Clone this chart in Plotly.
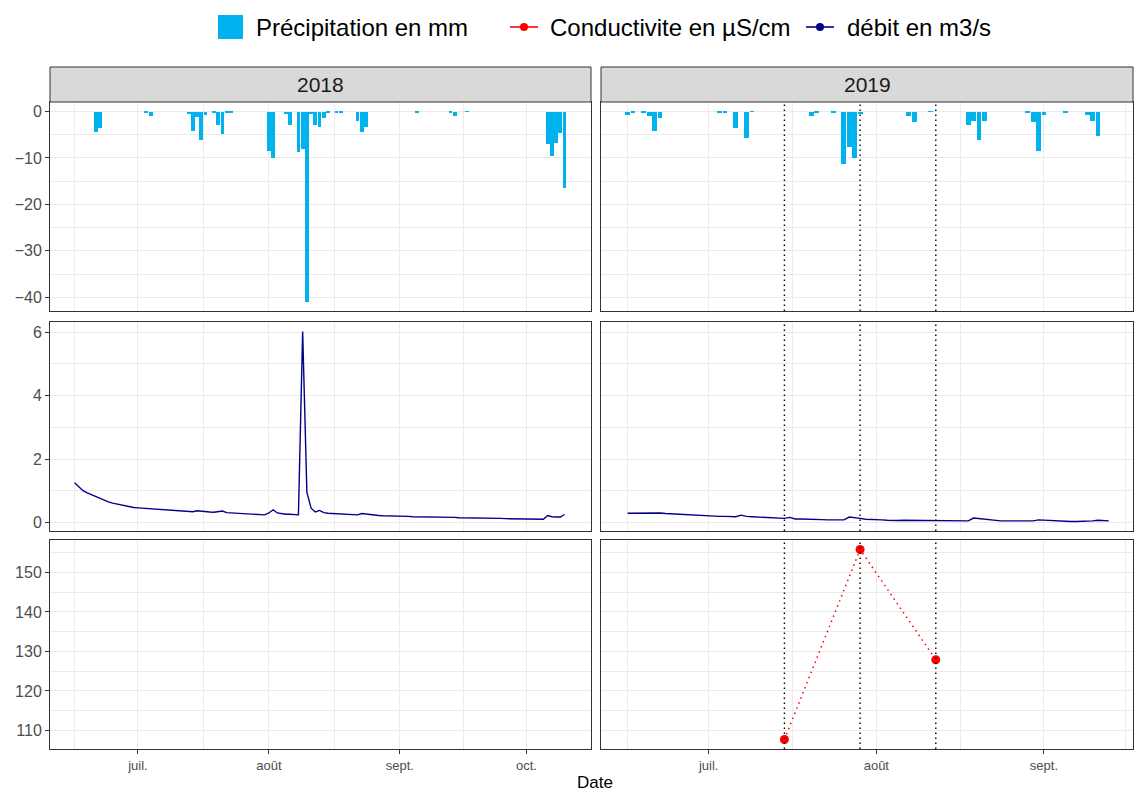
import pandas as pd
import plotly.graph_objects as go
from plotly.subplots import make_subplots

# ---------------- data ----------------
year_labels = ["2018", "2019"]

precip_2018_dates = ["2018-06-21", "2018-06-22", "2018-07-03", "2018-07-04", "2018-07-13",
                     "2018-07-14", "2018-07-15", "2018-07-16", "2018-07-17", "2018-07-19",
                     "2018-07-20", "2018-07-21", "2018-07-22", "2018-07-23", "2018-08-01",
                     "2018-08-02", "2018-08-05", "2018-08-06", "2018-08-08", "2018-08-09",
                     "2018-08-10", "2018-08-11", "2018-08-12", "2018-08-13", "2018-08-14",
                     "2018-08-15", "2018-08-17", "2018-08-18", "2018-08-22", "2018-08-23",
                     "2018-08-24", "2018-09-05", "2018-09-13", "2018-09-14", "2018-09-17",
                     "2018-10-06", "2018-10-07", "2018-10-08", "2018-10-09", "2018-10-10"]
precip_2018_mm = [-4.5, -3.5, -0.2, -1.0, -0.6,
                  -4.3, -1.1, -6.1, -0.7, -0.15,
                  -2.8, -4.9, -0.2, -0.2, -8.5,
                  -10.1, -0.5, -3.0, -8.7, -8.0,
                  -40.9, -0.5, -2.9, -3.4, -1.4,
                  -0.2, -0.2, -0.3, -2.0, -4.5,
                  -3.4, -0.3, -0.15, -0.9, -0.1,
                  -7.0, -9.5, -6.7, -4.6, -16.5]

precip_2019_dates = ["2019-06-16", "2019-06-17", "2019-06-19", "2019-06-20", "2019-06-21",
                     "2019-06-22", "2019-07-03", "2019-07-04", "2019-07-06", "2019-07-08",
                     "2019-07-09", "2019-07-20", "2019-07-21", "2019-07-24", "2019-07-26",
                     "2019-07-27", "2019-07-28", "2019-07-29", "2019-08-07", "2019-08-08",
                     "2019-08-11", "2019-08-18", "2019-08-19", "2019-08-20", "2019-08-21",
                     "2019-08-29", "2019-08-30", "2019-08-31", "2019-09-01", "2019-09-05",
                     "2019-09-09", "2019-09-10", "2019-09-11"]
precip_2019_mm = [-0.7, -0.15, -0.3, -0.9, -4.2,
                  -1.5, -0.4, -0.3, -3.6, -5.8,
                  -0.1, -0.9, -0.3, -0.3, -11.3,
                  -7.6, -10.0, -0.6, -0.9, -2.2,
                  -0.1, -2.8, -2.0, -6.1, -2.0,
                  -0.15, -2.2, -8.5, -0.7, -0.3,
                  -0.8, -2.0, -5.2]

# daily discharge, starting 2018-06-16
debit_2018_start = "2018-06-16"
debit_2018_m3s = [1.25, 1.12, 1.00, 0.93, 0.87, 0.82, 0.77, 0.70, 0.65, 0.61,
                  0.58, 0.54, 0.51, 0.49, 0.47, 0.46, 0.45, 0.44, 0.43, 0.42,
                  0.41, 0.40, 0.39, 0.38, 0.37, 0.36, 0.35, 0.35, 0.34, 0.37,
                  0.35, 0.34, 0.33, 0.32, 0.33, 0.36, 0.31, 0.30, 0.29, 0.28,
                  0.27, 0.27, 0.26, 0.25, 0.25, 0.24, 0.30, 0.40, 0.30, 0.27,
                  0.26, 0.26, 0.25, 0.24, 6.02, 0.95, 0.45, 0.33, 0.38, 0.31,
                  0.29, 0.28, 0.28, 0.28, 0.26, 0.24, 0.23, 0.24, 0.28, 0.26,
                  0.24, 0.23, 0.22, 0.21, 0.21, 0.20, 0.20, 0.19, 0.19, 0.19,
                  0.18, 0.18, 0.18, 0.18, 0.17, 0.17, 0.17, 0.17, 0.16, 0.16,
                  0.16, 0.15, 0.15, 0.15, 0.14, 0.14, 0.14, 0.14, 0.13, 0.13,
                  0.13, 0.13, 0.12, 0.12, 0.12, 0.12, 0.12, 0.11, 0.11, 0.11,
                  0.11, 0.10, 0.22, 0.18, 0.17, 0.17, 0.25]

# daily discharge, starting 2019-06-16
debit_2019_start = "2019-06-16"
debit_2019_m3s = [0.29, 0.29, 0.29, 0.29, 0.29, 0.31, 0.30, 0.28, 0.27, 0.26,
                  0.25, 0.23, 0.22, 0.21, 0.21, 0.20, 0.20, 0.19, 0.19, 0.18,
                  0.18, 0.23, 0.19, 0.18, 0.17, 0.16, 0.15, 0.14, 0.13, 0.13,
                  0.16, 0.11, 0.11, 0.11, 0.10, 0.10, 0.09, 0.08, 0.08, 0.08,
                  0.08, 0.17, 0.16, 0.13, 0.10, 0.10, 0.09, 0.08, 0.07, 0.06,
                  0.06, 0.07, 0.07, 0.07, 0.06, 0.06, 0.06, 0.06, 0.05, 0.05,
                  0.05, 0.05, 0.05, 0.05, 0.14, 0.12, 0.09, 0.07, 0.06, 0.05,
                  0.05, 0.05, 0.05, 0.05, 0.05, 0.05, 0.08, 0.07, 0.05, 0.04,
                  0.03, 0.03, 0.03, 0.03, 0.03, 0.03, 0.05, 0.07, 0.05, 0.05]

# conductivity samples (none in 2018)
cond_2018_dates = []
cond_2018_uscm = []
cond_2019_dates = ["2019-07-15", "2019-07-29", "2019-08-12"]
cond_2019_uscm = [107.7, 155.8, 127.9]

month_ticks_2018 = ["2018-07-01", "2018-08-01", "2018-09-01", "2018-10-01"]
month_labels_2018 = ["juil.", "août", "sept.", "oct."]
month_minor_2018 = ["2018-06-16", "2018-07-16 12:00", "2018-08-16 12:00", "2018-09-16"]
month_ticks_2019 = ["2019-07-01", "2019-08-01", "2019-09-01"]
month_labels_2019 = ["juil.", "août", "sept."]
month_minor_2019 = ["2019-06-16", "2019-07-16 12:00", "2019-08-16 12:00", "2019-09-16"]

legend_labels = ["Précipitation en mm", "Conductivite en µS/cm", "débit en m3/s"]

# ---------------- styling ----------------
C_RAIN = "#00B2EE"
C_COND = "#FF0000"
C_DEBIT = "#00008B"
GRID = "#EBEBEB"
BORDER = "#333333"
FONT = "Liberation Sans, Arial, sans-serif"

W, H = 1135, 791
ML, MR, MT, MB = 50, 2, 67, 42
PW, PH = W - ML - MR, H - MT - MB


def px_x(x):
    return (x - ML) / PW


def px_y(y):
    return (H - MB - y) / PH


col_px = [(50, 591), (601, 1133)]
row_px = [(102, 311), (322, 531), (540, 749)]
strip_px = (67, 102)

# ---------------- derived series ----------------
p18_d = pd.to_datetime(precip_2018_dates)
p19_d = pd.to_datetime(precip_2019_dates)
d18_d = pd.date_range(debit_2018_start, periods=len(debit_2018_m3s), freq="D")
d19_d = pd.date_range(debit_2019_start, periods=len(debit_2019_m3s), freq="D")
c18_d = pd.to_datetime(cond_2018_dates)
c19_d = pd.to_datetime(cond_2019_dates)
half = pd.Timedelta(hours=0.45 * 24)


def expand(lo, hi, f=0.05):
    pad = (hi - lo) * f
    return lo - pad, hi + pad


def xr(line_d, bar_d, extra=None):
    lows = [line_d.min(), bar_d.min() - half]
    highs = [line_d.max(), bar_d.max() + half]
    if extra is not None and len(extra) > 0:
        lows.append(extra.min())
        highs.append(extra.max())
    lo, hi = expand(min(lows), max(highs))
    return [lo.isoformat(), hi.isoformat()]


xrange_cols = [xr(d18_d, p18_d, c18_d), xr(d19_d, p19_d, c19_d)]

all_p = precip_2018_mm + precip_2019_mm
all_q = debit_2018_m3s + debit_2019_m3s
all_c = cond_2018_uscm + cond_2019_uscm
yr1 = list(expand(min(all_p + [0]), max(all_p + [0])))
yr2 = list(expand(min(all_q), max(all_q)))
yr3 = list(expand(min(all_c), max(all_c)))

fig = make_subplots(rows=3, cols=2)

bar_w = 0.9 * 86400000
fig.add_trace(go.Bar(x=p18_d, y=precip_2018_mm, width=bar_w, marker=dict(color=C_RAIN, line=dict(width=0)),
                     name=legend_labels[0], showlegend=False), row=1, col=1)
fig.add_trace(go.Bar(x=p19_d, y=precip_2019_mm, width=bar_w, marker=dict(color=C_RAIN, line=dict(width=0)),
                     name=legend_labels[0], showlegend=False), row=1, col=2)
fig.add_trace(go.Scatter(x=d18_d, y=debit_2018_m3s, mode="lines", line=dict(color=C_DEBIT, width=1.4),
                         name=legend_labels[2], showlegend=False), row=2, col=1)
fig.add_trace(go.Scatter(x=d19_d, y=debit_2019_m3s, mode="lines", line=dict(color=C_DEBIT, width=1.4),
                         name=legend_labels[2], showlegend=False), row=2, col=2)
fig.add_trace(go.Scatter(x=list(c18_d), y=cond_2018_uscm, mode="lines+markers",
                         line=dict(color=C_COND, width=1.5, dash="1.5px,4px"),
                         marker=dict(color=C_COND, size=9),
                         name=legend_labels[1], showlegend=False), row=3, col=1)
fig.add_trace(go.Scatter(x=c19_d, y=cond_2019_uscm, mode="lines+markers",
                         line=dict(color=C_COND, width=1.5, dash="1.5px,4px"),
                         marker=dict(color=C_COND, size=9),
                         name=legend_labels[1], showlegend=False), row=3, col=2)

yranges = [yr1, yr2, yr3]
ytickv = [[-40, -30, -20, -10, 0], [0, 2, 4, 6], [110, 120, 130, 140, 150]]
yminor = [[-35, -25, -15, -5], [1, 3, 5], [115, 125, 135, 145, 155]]
xticks = [(month_ticks_2018, month_labels_2018, month_minor_2018),
          (month_ticks_2019, month_labels_2019, month_minor_2019)]

for r in range(3):
    for c in range(2):
        n = r * 2 + c + 1
        xa = "xaxis" if n == 1 else f"xaxis{n}"
        ya = "yaxis" if n == 1 else f"yaxis{n}"
        tv, tl, mv = xticks[c]
        bottom = (r == 2)
        fig.layout[xa].update(
            domain=[px_x(col_px[c][0]), px_x(col_px[c][1])],
            range=xrange_cols[c], type="date",
            tickmode="array", tickvals=tv, ticktext=tl,
            showticklabels=bottom, ticks="outside" if bottom else "",
            ticklen=4, tickwidth=1, tickcolor=BORDER,
            tickfont=dict(family=FONT, size=13, color="#4D4D4D"),
            showgrid=True, gridcolor=GRID, gridwidth=1.1,
            minor=dict(tickmode="array", tickvals=mv, showgrid=True, gridcolor=GRID, gridwidth=0.6, ticks=""),
            showline=True, mirror=True, linecolor=BORDER, linewidth=1,
            zeroline=False, anchor=ya.replace("axis", ""),
        )
        fig.layout[ya].update(
            domain=[px_y(row_px[r][1]), px_y(row_px[r][0])],
            range=yranges[r], tickmode="array", tickvals=ytickv[r],
            showticklabels=(c == 0), ticks="outside" if c == 0 else "",
            ticklen=4, tickwidth=1, tickcolor=BORDER,
            tickfont=dict(family=FONT, size=16, color="#4D4D4D"),
            showgrid=True, gridcolor=GRID, gridwidth=1.1,
            minor=dict(tickmode="array", tickvals=yminor[r], showgrid=True, gridcolor=GRID, gridwidth=0.6, ticks=""),
            showline=True, mirror=True, linecolor=BORDER, linewidth=1,
            zeroline=False, anchor=xa.replace("axis", ""),
        )

shapes = []
annotations = []

# vertical dotted lines at conductivity sampling dates (2019 column, all rows)
for r in range(3):
    n = r * 2 + 2
    for d in c19_d:
        shapes.append(dict(type="line", xref=f"x{n}", yref=f"y{n} domain", x0=d, x1=d, y0=0, y1=1,
                           line=dict(color="black", width=1.4, dash="1.5px,3.5px"), layer="above"))

# strips
for c in range(2):
    shapes.append(dict(type="rect", xref="paper", yref="paper",
                       x0=px_x(col_px[c][0]), x1=px_x(col_px[c][1]),
                       y0=px_y(strip_px[1]), y1=px_y(strip_px[0]),
                       fillcolor="#D9D9D9", line=dict(color=BORDER, width=1)))
    annotations.append(dict(xref="paper", yref="paper",
                            x=px_x((col_px[c][0] + col_px[c][1]) / 2), y=px_y((strip_px[0] + strip_px[1]) / 2),
                            text=year_labels[c], showarrow=False, xanchor="center", yanchor="middle",
                            font=dict(family=FONT, size=21, color="#1A1A1A")))

# axis title
annotations.append(dict(xref="paper", yref="paper", x=px_x(595), y=px_y(782), text="Date",
                        showarrow=False, xanchor="center", yanchor="middle",
                        font=dict(family=FONT, size=17, color="black")))

# legend (drawn manually to mimic ggplot keys)
ly = 27
shapes.append(dict(type="rect", xref="paper", yref="paper", x0=px_x(218), x1=px_x(243),
                   y0=px_y(39), y1=px_y(15), fillcolor=C_RAIN, line=dict(width=0)))
for (x0, x1, col) in [(510, 538, C_COND), (806, 834, C_DEBIT)]:
    shapes.append(dict(type="line", xref="paper", yref="paper", x0=px_x(x0), x1=px_x(x1),
                       y0=px_y(ly), y1=px_y(ly), line=dict(color=col, width=1.6)))
    cx = (x0 + x1) / 2
    shapes.append(dict(type="circle", xref="paper", yref="paper", x0=px_x(cx - 4), x1=px_x(cx + 4),
                       y0=px_y(ly + 4), y1=px_y(ly - 4), fillcolor=col, line=dict(width=0)))
for x, lab in zip([254, 548, 845], legend_labels):
    annotations.append(dict(xref="paper", yref="paper", x=px_x(x), y=px_y(ly), text=lab,
                            showarrow=False, xanchor="left", yanchor="middle",
                            font=dict(family=FONT, size=24, color="black")))

fig.update_layout(
    width=W, height=H,
    margin=dict(l=ML, r=MR, t=MT, b=MB, autoexpand=False),
    paper_bgcolor="white", plot_bgcolor="white",
    showlegend=False, barmode="overlay", bargap=0,
    shapes=shapes, annotations=annotations,
    font=dict(family=FONT),
)

fig.write_html("out.html", config={"displayModeBar": False},
               post_script="document.body.style.margin='0';document.body.style.padding='0';")
